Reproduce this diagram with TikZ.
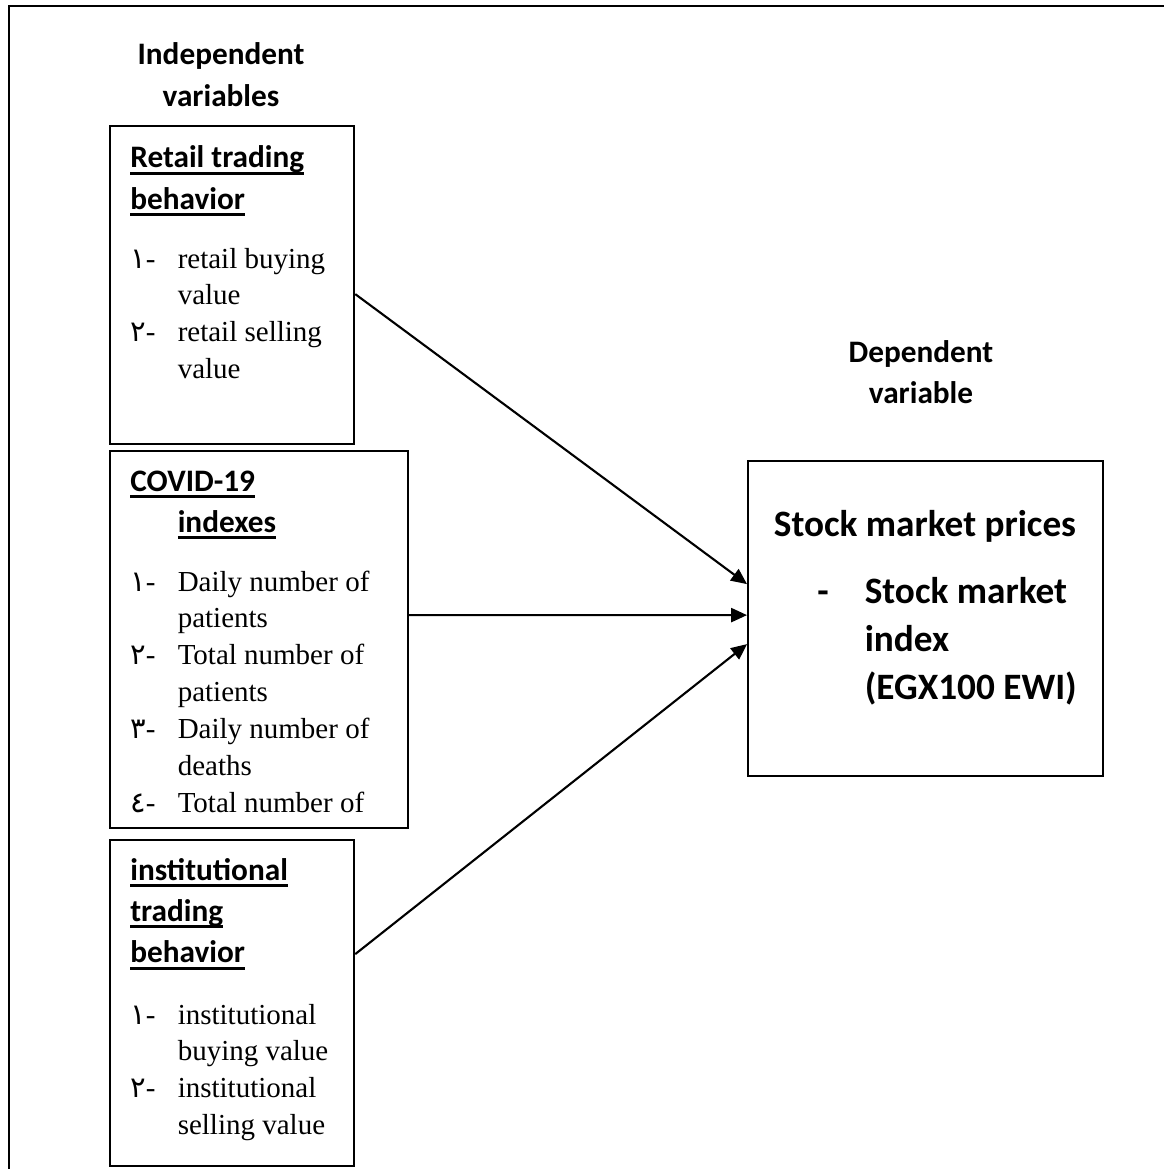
\documentclass[tikz,border=0pt]{standalone}
\usepackage{fontspec}
\setmainfont{Liberation Serif}
\newfontfamily\headfont{Carlito}
\newfontfamily\arabicfont[Script=Arabic]{DejaVu Sans}
\usetikzlibrary{arrows.meta,positioning}

\tikzset{
  varbox/.style={draw, line width=1.3pt, anchor=north west, inner sep=0pt},
  heading/.style={font=\headfont\bfseries\fontsize{17.8}{23.8}\selectfont, anchor=base, inner sep=0pt},
  boxtitle/.style={font=\headfont\bfseries\fontsize{17.8}{23.6}\selectfont, anchor=base west, inner sep=0pt},
  itemlist/.style={font=\fontsize{16.5}{21}\selectfont, anchor=base west, inner sep=0pt},
  link/.style={-{Triangle[length=9pt,width=8pt]}, line width=1.2pt}
}
\newcommand\itemno[1]{{\arabicfont #1}-}
\newcommand\ulbox[1]{\leavevmode\setbox0\hbox{#1}\rlap{\vrule height -2.1pt depth 3.8pt width \wd0}\box0}

\begin{document}
\begin{tikzpicture}[x=0.02cm, y=-0.02cm]
  \useasboundingbox (0,0) rectangle (1164,1169);
  % frame
  \draw[line width=1.6pt] (9,1169) -- (9,6) -- (1164,6);

  % headings
  \node[heading] (indep) at (221,65)
    {\begin{tabular}[t]{@{}c@{}}Independent\\variables\end{tabular}};
  \node[heading] (dep) at (921,362)
    {\begin{tabular}[t]{@{}c@{}}Dependent\\variable\end{tabular}};

  % independent variables
  \node[varbox, minimum width=4.88cm, minimum height=6.36cm] (retail) at (109,125) {};
  \node[boxtitle] (retailtitle) at ([shift={(21,43)}]retail.north west)
    {\begin{tabular}[t]{@{}l@{}}\ulbox{Retail trading}\\\ulbox{behavior}\end{tabular}};
  \node[itemlist] (retailitems) at ([shift={(21,143)}]retail.north west)
    {\begin{tabular}[t]{@{}p{27pt}@{}l@{}}
      \itemno{١} & retail buying\\ & value\\
      \itemno{٢} & retail selling\\ & value
    \end{tabular}};

  \node[varbox, minimum width=5.96cm, minimum height=7.54cm] (covid) at (109,450) {};
  \node[boxtitle] (covidtitle) at ([shift={(21,41)}]covid.north west)
    {\begin{tabular}[t]{@{}l@{}}\ulbox{COVID-19}\\\hspace*{27pt}\ulbox{indexes}\end{tabular}};
  \node[itemlist] (coviditems) at ([shift={(21,141)}]covid.north west)
    {\begin{tabular}[t]{@{}p{27pt}@{}l@{}}
      \itemno{١} & Daily number of\\ & patients\\
      \itemno{٢} & Total number of\\ & patients\\
      \itemno{٣} & Daily number of\\ & deaths\\
      \itemno{٤} & Total number of
    \end{tabular}};

  \node[varbox, minimum width=4.88cm, minimum height=6.52cm] (inst) at (109,839) {};
  \node[boxtitle] (insttitle) at ([shift={(21,41)}]inst.north west)
    {\begin{tabular}[t]{@{}l@{}}\ulbox{institutional}\\\ulbox{trading}\\\ulbox{behavior}\end{tabular}};
  \node[itemlist] (institems) at ([shift={(21,185)}]inst.north west)
    {\begin{tabular}[t]{@{}p{27pt}@{}l@{}}
      \itemno{١} & institutional\\ & buying value\\
      \itemno{٢} & institutional\\ & selling value
    \end{tabular}};

  % dependent variable
  \node[varbox, minimum width=7.1cm, minimum height=6.3cm] (stock) at (747,460) {};
  \node[heading, font=\headfont\bfseries\fontsize{21.2}{27.5}\selectfont] (stocktitle)
    at ([shift={(178,76)}]stock.north west) {Stock market prices};
  \node[itemlist, font=\headfont\bfseries\fontsize{21.2}{27.5}\selectfont] (stockitems)
    at ([shift={(70,143)}]stock.north west)
    {\begin{tabular}[t]{@{}p{27pt}@{}l@{}}
      - & Stock market\\ & index\\ & (EGX100 EWI)
    \end{tabular}};

  % links
  \draw[link] ([shift={(0,9)}]retail.east) -- ([shift={(0,-34.5)}]stock.west);
  \draw[link] ([shift={(0,-24.5)}]covid.east) -- ([shift={(0,-3.5)}]stock.west);
  \draw[link] ([shift={(0,-49)}]inst.east) -- ([shift={(0,25.5)}]stock.west);
\end{tikzpicture}
\end{document}
